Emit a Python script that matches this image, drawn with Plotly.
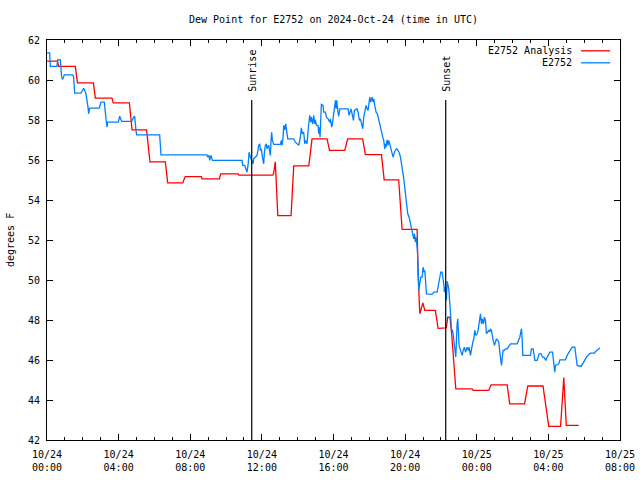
import pandas as pd
import plotly.graph_objects as go

TITLE = "Dew Point for E2752 on 2024-Oct-24 (time in UTC)"
BASE = pd.Timestamp("2024-10-24 00:00")

# Analysis series (minutes after 2024-10-24 00:00 UTC, deg F)
red_min = [0, 35.4, 39, 94.8, 102, 155.4, 162, 217.8, 222, 276,
           285, 333.6, 345, 396.6, 404.4, 454.8, 463.2, 517.2, 519.6, 577.8,
           582, 640.2, 643.2, 756, 759, 765, 773.4, 817.8, 826.8, 877.2,
           888, 938.4, 946.8, 997.8, 1007.4, 1057.8, 1066.8, 1120.8, 1129.8, 1178.4,
           1189.8, 1240.2, 1243.2, 1249.2, 1259.4, 1266, 1301.4, 1310.4, 1338, 1342.8,
           1350, 1356, 1369.8, 1424.4, 1428, 1480.2, 1488, 1542, 1550.4, 1600.2,
           1611, 1662, 1681.2, 1720.8, 1726.8, 1731.6, 1740, 1781.4]
red_val = [60.94, 60.94, 60.68, 60.68, 59.86, 59.86, 59.09, 59.09, 58.86, 58.86,
           57.51, 57.51, 55.91, 55.91, 54.86, 54.86, 55.17, 55.17, 55.06, 55.06,
           55.31, 55.31, 55.24, 55.24, 55.3, 55.91, 53.22, 53.22, 55.71, 55.71,
           57.06, 57.06, 56.48, 56.48, 57.06, 57.06, 56.27, 56.27, 55.01, 55.01,
           52.53, 52.53, 50.4, 48.31, 48.86, 48.48, 48.48, 47.58, 47.61, 48.14,
           48.14, 47.3, 44.56, 44.56, 44.48, 44.48, 44.76, 44.76, 43.81, 43.81,
           44.7, 44.7, 42.68, 42.68, 44.0, 45.12, 42.73, 42.73]

# Station observations (minutes after 2024-10-24 00:00 UTC, deg F)
blue_min = [0, 8.8, 11, 33.4, 35.6, 44.6, 49, 52.4, 58, 86,
            89.3, 92.6, 113.9, 122.8, 130.6, 134, 137.3, 139.5, 142.9, 175.3,
            180.9, 192, 194.3, 198.8, 201, 203.2, 239, 243.5, 250.2, 283.7,
            290.4, 293.7, 298.2, 300.4, 377.5, 382, 536.2, 538.4, 542.9, 545.1,
            549.6, 554.1, 653.5, 655.8, 662.4, 664.7, 670.3, 674.8, 677, 681.5,
            687.1, 690.4, 692.6, 703.8, 709.4, 712.7, 715, 718.3, 721.7, 726.2,
            728.4, 731.7, 735.1, 737.3, 742.9, 746.2, 748.5, 750.7, 752.9, 755.2,
            759.7, 782, 785.4, 787.6, 791, 793.2, 796.5, 799.9, 802.1, 804.4,
            806.6, 826.7, 832.3, 843.5, 849.1, 852.4, 855.8, 860.2, 863.6, 866.9,
            871.4, 875.9, 880.3, 883.7, 885.9, 890.4, 893.7, 897.1, 899.3, 902.7,
            908.3, 910.5, 912.7, 915, 917.2, 919.4, 925, 927.3, 932.9, 936.2,
            941.8, 947.4, 949.6, 954.1, 956.3, 960.8, 963, 966.4, 968.6, 970.8,
            974.2, 977.5, 980.9, 1008.8, 1012.2, 1016.6, 1018.9, 1023.4, 1026.7, 1030.1,
            1039, 1042.4, 1046.8, 1050.2, 1053.5, 1058, 1061.3, 1064.7, 1069.2, 1072.5,
            1075.9, 1078.1, 1081.5, 1084.8, 1087.1, 1089.3, 1092.7, 1094.9, 1098.2, 1102.7,
            1107.2, 1111.6, 1116.1, 1120.6, 1125, 1128.4, 1131.7, 1134, 1136.2, 1139.6,
            1142.9, 1145.2, 1148.5, 1151.9, 1156.3, 1159.7, 1163, 1167.5, 1172, 1175.3,
            1179.8, 1184.3, 1188.7, 1192.1, 1195.4, 1197.7, 1199.9, 1202.1, 1205.5, 1208.8,
            1213.3, 1216.7, 1220, 1222.2, 1225.6, 1228.9, 1231.2, 1234.5, 1236.8, 1239,
            1241.2, 1243.5, 1245.7, 1249, 1252.4, 1256.9, 1260.2, 1263.6, 1265.8, 1268,
            1271.4, 1290.4, 1296, 1307.2, 1310.5, 1315, 1319.4, 1323.9, 1327.3, 1329.5,
            1331.7, 1335.1, 1338.4, 1340.7, 1342.9, 1346.2, 1349.6, 1351.8, 1355.2, 1358.6,
            1360.8, 1363, 1366.4, 1369.7, 1372, 1374.2, 1376.4, 1378.7, 1380.9, 1385.4,
            1391, 1394.3, 1398.8, 1402.2, 1407.8, 1412.2, 1414.5, 1418.9, 1422.3, 1426.8,
            1430.1, 1433.5, 1436.8, 1441.3, 1444.6, 1449.1, 1452.4, 1455.8, 1459.1, 1462.5,
            1465.9, 1469.2, 1472.6, 1475.9, 1480.4, 1483.7, 1486, 1489.3, 1491.6, 1494.9,
            1499.4, 1502.7, 1506.1, 1510.5, 1513.9, 1517.2, 1519.5, 1522.8, 1525.1, 1528.4,
            1532.9, 1536.3, 1541.8, 1545.2, 1548.5, 1553, 1575.3, 1579.8, 1584.3, 1587.6,
            1589.9, 1592.1, 1594.3, 1620.1, 1623.4, 1629, 1631.2, 1634.6, 1642.4, 1645.7,
            1649.1, 1655.8, 1660.3, 1664.7, 1671.4, 1675.9, 1680.4, 1684.8, 1693.8, 1696,
            1698.2, 1700.5, 1701.6, 1703.8, 1715, 1718.3, 1737.3, 1742.9, 1748.5, 1754.1,
            1759.7, 1768.6, 1770.9, 1774.2, 1776.5, 1789.9, 1794.3, 1801, 1807.7, 1815.5,
            1821.1, 1834.5, 1839, 1845.7, 1852.4]
blue_val = [61.36, 61.36, 60.68, 60.68, 61.01, 61.01, 60.14, 60.03, 60.26, 60.26,
            60.14, 59.34, 59.34, 59.59, 59.31, 59.06, 58.64, 58.31, 58.59, 58.59,
            58.89, 58.89, 58.64, 57.89, 57.64, 57.89, 57.89, 58.19, 57.93, 57.93,
            58.14, 58.19, 57.48, 57.26, 57.26, 56.26, 56.26, 56.14, 56.23, 55.98,
            56.23, 55.98, 55.98, 55.73, 55.73, 55.64, 55.39, 55.89, 56.39, 56.14,
            55.98, 55.81, 56.06, 56.23, 56.73, 56.81, 56.48, 56.56, 56.14, 55.81,
            56.39, 56.73, 56.81, 56.56, 56.73, 56.39, 56.23, 56.98, 57.39, 56.98,
            56.78, 56.78, 56.98, 56.73, 57.14, 57.73, 57.51, 57.81, 57.56, 57.39,
            57.06, 57.06, 56.89, 56.73, 57.14, 57.61, 57.31, 57.39, 56.81, 56.98,
            56.81, 57.64, 58.23, 57.89, 58.14, 57.81, 58.23, 57.81, 58.01, 57.73,
            57.73, 57.31, 57.64, 57.14, 58.23, 58.78, 58.73, 58.39, 58.39, 58.14,
            58.06, 57.89, 58.06, 57.64, 57.81, 58.31, 58.73, 58.98, 58.56, 58.98,
            58.48, 58.18, 58.56, 58.56, 58.23, 58.48, 58.56, 58.23, 57.98, 58.48,
            58.56, 58.39, 57.98, 58.06, 57.81, 57.56, 58.14, 58.48, 58.73, 58.56,
            58.48, 58.73, 59.14, 58.89, 58.98, 59.14, 58.89, 59.06, 58.73, 58.39,
            58.31, 57.98, 57.81, 57.48, 57.14, 56.98, 56.56, 56.81, 56.64, 57.01,
            56.73, 56.98, 56.81, 56.64, 56.39, 56.14, 56.31, 56.51, 56.56, 56.51,
            56.39, 56.14, 55.81, 55.39, 55.06, 54.73, 54.39, 53.98, 53.64, 53.31,
            53.14, 52.89, 52.73, 52.56, 52.31, 52.06, 52.31, 51.89, 52.14, 51.81,
            51.48, 50.64, 49.48, 49.81, 50.14, 50.14, 50.64, 50.39, 50.48, 50.06,
            49.31, 49.28, 49.39, 49.39, 49.64, 49.98, 50.39, 50.39, 50.06, 49.81,
            49.39, 49.64, 48.98, 49.94, 49.81, 49.56, 48.98, 48.39, 47.56, 47.48,
            47.31, 46.81, 46.56, 46.14, 47.31, 47.81, 48.06, 47.31, 46.73, 46.48,
            46.23, 46.48, 46.64, 46.39, 46.64, 46.48, 46.64, 46.23, 46.56, 46.89,
            47.06, 47.48, 47.23, 47.31, 47.48, 47.89, 48.31, 47.81, 48.06, 47.81,
            48.14, 47.98, 47.31, 47.39, 47.48, 47.39, 47.56, 47.48, 47.23, 46.98,
            46.73, 46.98, 47.06, 46.98, 46.89, 46.39, 45.98, 45.73, 46.06, 46.48,
            46.48, 46.56, 46.56, 46.64, 46.73, 46.81, 46.81, 46.98, 47.14, 47.39,
            47.56, 47.06, 46.23, 46.23, 46.56, 46.56, 46.23, 45.98, 45.98, 46.23,
            46.31, 46.31, 46.14, 46.14, 45.98, 46.14, 46.31, 46.39, 46.39, 46.14,
            45.73, 45.64, 45.39, 45.73, 45.81, 46.01, 46.01, 46.23, 46.39, 46.56,
            46.64, 46.64, 46.39, 46.06, 45.73, 45.68, 45.81, 45.98, 46.14, 46.28,
            46.34, 46.34, 46.44, 46.51, 46.61]

series_names = ["E2752 Analysis", "E2752"]
series_colors = ["#ff0000", "#0080ff"]

sun_labels = ["Sunrise", "Sunset"]
sun_times = ["2024-10-24 11:26", "2024-10-24 22:16"]
sun_line_top = 59.0

x_tick_times = ["2024-10-24 00:00", "2024-10-24 04:00", "2024-10-24 08:00",
                "2024-10-24 12:00", "2024-10-24 16:00", "2024-10-24 20:00",
                "2024-10-25 00:00", "2024-10-25 04:00", "2024-10-25 08:00"]
x_tick_text = ["10/24<br>00:00", "10/24<br>04:00", "10/24<br>08:00",
               "10/24<br>12:00", "10/24<br>16:00", "10/24<br>20:00",
               "10/25<br>00:00", "10/25<br>04:00", "10/25<br>08:00"]
y_ticks = [42, 44, 46, 48, 50, 52, 54, 56, 58, 60, 62]

FONT = "DejaVu Sans Mono"

red_t = BASE + pd.to_timedelta(red_min, unit="m")
blue_t = BASE + pd.to_timedelta(blue_min, unit="m")

fig = go.Figure()
fig.add_trace(go.Scatter(x=red_t, y=red_val, mode="lines", name=series_names[0],
                         line=dict(color=series_colors[0], width=1.3), showlegend=False))
fig.add_trace(go.Scatter(x=blue_t, y=blue_val, mode="lines", name=series_names[1],
                         line=dict(color=series_colors[1], width=1.3), showlegend=False))

# sunrise / sunset markers
for lab, t in zip(sun_labels, sun_times):
    fig.add_shape(type="line", xref="x", yref="y", x0=t, x1=t, y0=y_ticks[0], y1=sun_line_top,
                  line=dict(color="black", width=1.2))
    fig.add_annotation(x=t, y=sun_line_top, xref="x", yref="y", text=lab, textangle=-90,
                       showarrow=False, yanchor="bottom", xanchor="center", yshift=6,
                       font=dict(family=FONT, size=10, color="black"))

# gnuplot-style key: text then line sample
key_y = [0.973, 0.943]
for name, col, ky in zip(series_names, series_colors, key_y):
    fig.add_annotation(x=0.92, y=ky, xref="paper", yref="paper", text=name, showarrow=False,
                       xanchor="right", yanchor="middle", font=dict(family=FONT, size=10, color="black"))
    fig.add_shape(type="line", xref="paper", yref="paper", x0=0.932, x1=0.983, y0=ky, y1=ky,
                  line=dict(color=col, width=1.3))

# title and y label
fig.add_annotation(x=0.5, y=1, xref="paper", yref="paper", text=TITLE, showarrow=False,
                   yanchor="middle", yshift=21, font=dict(family=FONT, size=10, color="black"))
fig.add_annotation(x=0, y=0.5, xref="paper", yref="paper", text="degrees F", showarrow=False,
                   textangle=-90, xanchor="center", yanchor="middle", xshift=-37,
                   font=dict(family=FONT, size=10, color="black"))

axis_common = dict(showline=True, linecolor="black", linewidth=1, mirror="allticks",
                   ticks="inside", ticklen=6, tickcolor="black", tickwidth=1,
                   showgrid=False, zeroline=False, automargin=False,
                   tickfont=dict(family=FONT, size=10, color="black"))

fig.update_xaxes(type="date", range=[x_tick_times[0], x_tick_times[-1]],
                 tickmode="array", tickvals=x_tick_times, ticktext=x_tick_text,
                 ticklabelstandoff=5,
                 minor=dict(dtick=3600000, ticks="inside", ticklen=3, tickcolor="black", showgrid=False),
                 **axis_common)
fig.update_yaxes(range=[y_ticks[0], y_ticks[-1]], tickmode="array", tickvals=y_ticks,
                 ticktext=[str(v) for v in y_ticks], ticklabelstandoff=4, **axis_common)

fig.update_layout(width=640, height=480, margin=dict(l=47, r=20, t=40, b=40),
                  plot_bgcolor="white", paper_bgcolor="white",
                  font=dict(family=FONT, size=10, color="black"))

fig.write_html("out.html", config={"displayModeBar": False},
               post_script="document.body.style.margin='0';document.body.style.overflow='hidden';")
